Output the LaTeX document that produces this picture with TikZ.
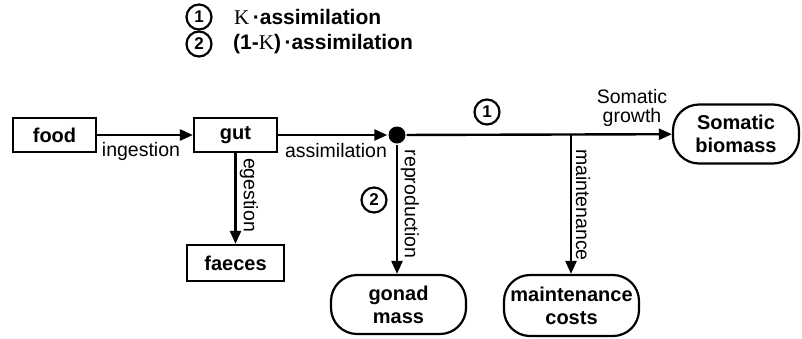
\documentclass[tikz,border=0pt]{standalone}
\usepackage{fontspec}
\setmainfont{Liberation Sans}
\newfontfamily\serifk{Liberation Serif}
\usetikzlibrary{arrows.meta}
\begin{document}
\begin{tikzpicture}[x=1pt,y=-1pt,line width=2.4pt,
  box/.style={draw,rectangle,inner sep=0pt,line width=2.2pt,font=\bfseries\fontsize{20}{22}\selectfont},
  pill/.style={draw,rectangle,rounded corners=26pt,inner sep=0pt,line width=2.2pt,align=center,font=\bfseries\fontsize{20}{23}\selectfont},
  lbl/.style={inner sep=0pt,align=center,font=\fontsize{19.5}{18.5}\selectfont},
  legend/.style={inner sep=0pt,anchor=west,font=\bfseries\fontsize{21}{22}\selectfont},
  num/.style={circle,draw,line width=2.2pt,minimum size=25pt,inner sep=0pt,font=\bfseries\fontsize{17}{17}\selectfont},
  flow/.style={-{Triangle[length=13pt,width=11pt]}}]
\useasboundingbox (0,0) rectangle (802,338);

% legend
\node[num] (l1) at (199,17) {1};
\node[legend] (t1) at (233,17) {{\mdseries\serifk Κ}\,·assimilation};
\node[num] (l2) at (199,44) {2};
\node[legend] (t2) at (232,44) {(1-{\mdseries\serifk Κ})\,·assimilation};

% nodes
\node[box,minimum width=83pt,minimum height=34pt] (food) at (54.5,135) {food};
\node[box,minimum width=83pt,minimum height=34pt] (gut) at (235.5,135) {gut};
\node[box,minimum width=97pt,minimum height=36pt] (faeces) at (235.5,263) {faeces};
\node[circle,fill,inner sep=0pt,minimum size=17pt] (dot) at (397,135) {};
\node[pill,minimum width=135pt,minimum height=59pt] (gonad) at (398.5,304.5) {gonad\\mass};
\node[pill,minimum width=135pt,minimum height=61pt] (maint) at (571.5,305.5) {maintenance\\costs};
\node[pill,minimum width=126pt,minimum height=59pt] (soma) at (736,134) {Somatic\\biomass};
\coordinate (mj) at (571,135);

% connectors
\draw[flow] (food) -- (gut);
\draw[flow] (gut) -- (dot);
\draw[flow] (dot) -- (soma);
\draw[flow] (gut.south) -- (gut.south |- faeces.north);
\draw[flow] (dot.south) -- (dot.south |- gonad.north);
\draw[flow] (mj) -- (mj |- maint.north);

% labels
\node[lbl] (ling) at (141,151) {ingestion};
\node[lbl] (lass) at (336,151) {assimilation};
\node[lbl] (lsom) at (632,108) {Somatic\\growth};
\node[lbl,rotate=-90] (leg) at (249,195) {egestion};
\node[lbl,rotate=-90] (lrep) at (410,204) {reproduction};
\node[lbl,rotate=-90] (lmain) at (583,205) {maintenance};
\node[num] (c1) at (487,112) {1};
\node[num] (c2) at (374,200) {2};
\end{tikzpicture}
\end{document}
